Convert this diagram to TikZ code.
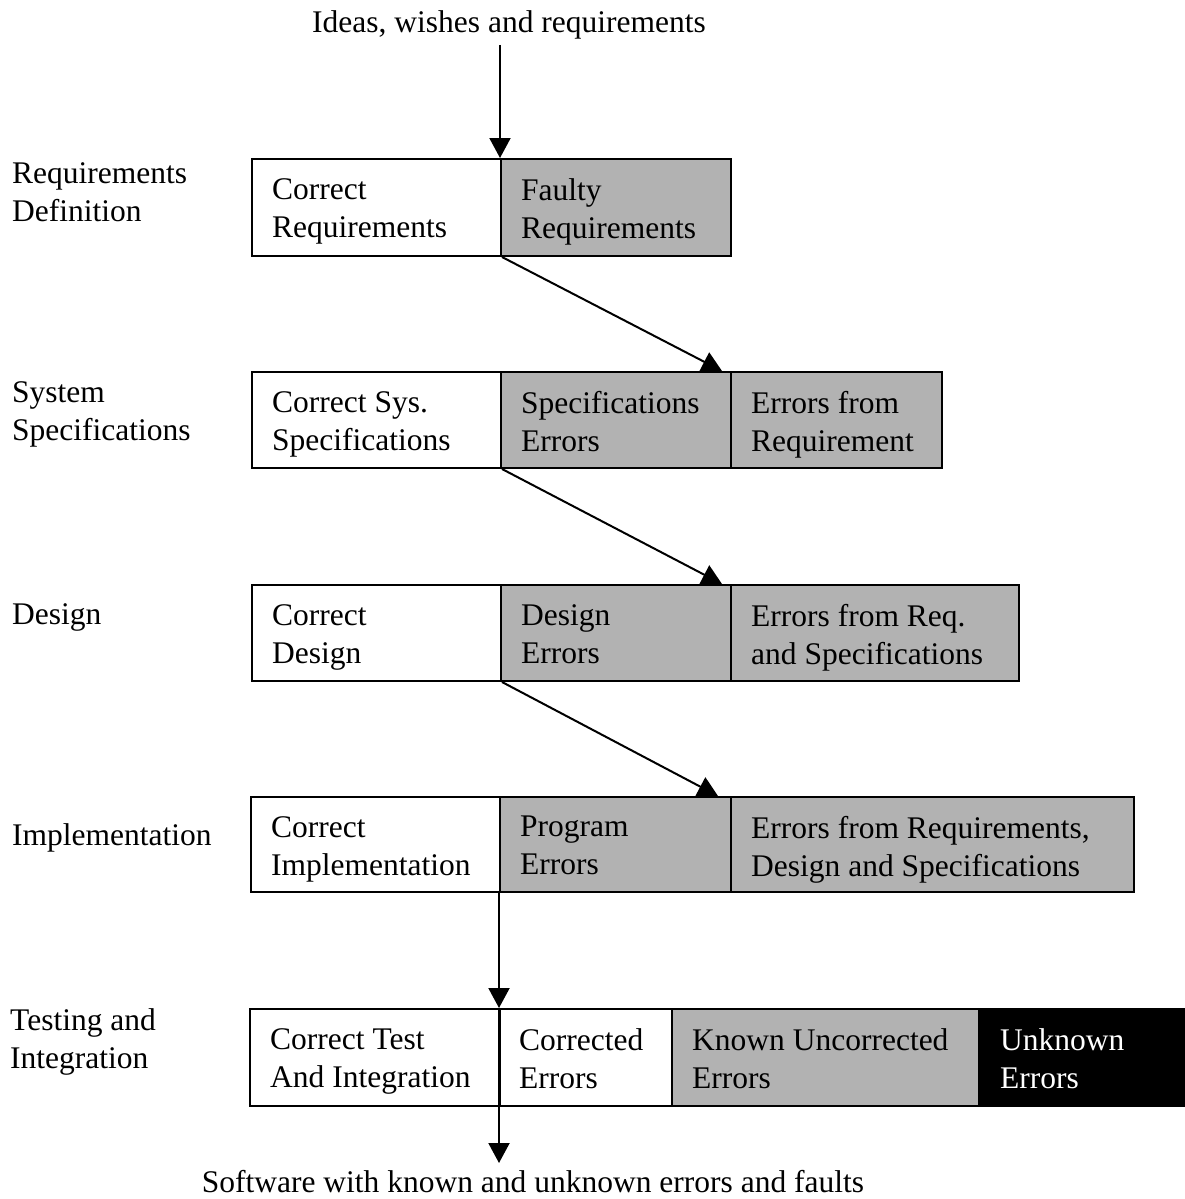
\documentclass[tikz,border=0pt]{standalone}
\usepackage{fontspec}
\setmainfont{Liberation Serif}
\usetikzlibrary{arrows.meta}
\begin{document}
\begin{tikzpicture}[x=1pt,y=-1pt,
  every node/.style={font=\fontsize{31.5}{38}\selectfont},
  cell/.style={draw=black, line width=2pt, rectangle, anchor=north west, inner sep=0pt},
  wcell/.style={cell, fill=white},
  gcell/.style={cell, fill=black!30},
  bcell/.style={cell, fill=black},
  txt/.style={anchor=north west, align=left, inner sep=0pt, execute at begin node=\strut},
  lab/.style={anchor=west, align=left, inner sep=0pt},
  arr/.style={line width=2pt, -{Triangle[length=20pt,width=21pt]}}]
\useasboundingbox (0,0) rectangle (1184,1199);
% row 1
\node[wcell, minimum width=249pt, minimum height=97pt] (r1a) at (251,158) {};
\node[gcell, minimum width=230pt, minimum height=97pt] (r1b) at (500,158) {};
% row 2
\node[wcell, minimum width=249pt, minimum height=96pt] (r2a) at (251,371) {};
\node[gcell, minimum width=230pt, minimum height=96pt] (r2b) at (500,371) {};
\node[gcell, minimum width=211pt, minimum height=96pt] (r2c) at (730,371) {};
% row 3
\node[wcell, minimum width=249pt, minimum height=96pt] (r3a) at (251,584) {};
\node[gcell, minimum width=230pt, minimum height=96pt] (r3b) at (500,584) {};
\node[gcell, minimum width=288pt, minimum height=96pt] (r3c) at (730,584) {};
% row 4
\node[wcell, minimum width=249pt, minimum height=95pt] (r4a) at (250,796) {};
\node[gcell, minimum width=231pt, minimum height=95pt] (r4b) at (499,796) {};
\node[gcell, minimum width=403pt, minimum height=95pt] (r4c) at (730,796) {};
% row 5
\node[wcell, minimum width=250pt, minimum height=97pt] (r5a) at (249,1008) {};
\node[wcell, minimum width=172pt, minimum height=97pt] (r5b) at (499,1008) {};
\node[gcell, minimum width=307pt, minimum height=97pt] (r5c) at (671,1008) {};
\node[bcell, minimum width=208pt, minimum height=97pt] (r5d) at (978,1008) {};
% cell texts
\tikzset{toff/.style={xshift=21pt,yshift=-20pt}}
\node[txt] (t1a) at ([toff]r1a.north west) {Correct\\Requirements};
\node[txt] (t1b) at ([toff]r1b.north west) {Faulty\\Requirements};
\node[txt] (t2a) at ([toff]r2a.north west) {Correct Sys.\\Specifications};
\node[txt] (t2b) at ([toff]r2b.north west) {Specifications\\Errors};
\node[txt] (t2c) at ([toff]r2c.north west) {Errors from\\Requirement};
\node[txt] (t3a) at ([toff]r3a.north west) {Correct\\Design};
\node[txt] (t3b) at ([toff]r3b.north west) {Design\\Errors};
\node[txt] (t3c) at ([toff]r3c.north west) {Errors from Req.\\and Specifications};
\node[txt] (t4a) at ([toff]r4a.north west) {Correct\\Implementation};
\node[txt] (t4b) at ([toff]r4b.north west) {Program\\Errors};
\node[txt] (t4c) at ([toff]r4c.north west) {Errors from Requirements,\\Design and Specifications};
\node[txt] (t5a) at ([toff]r5a.north west) {Correct Test\\And Integration};
\node[txt] (t5b) at ([toff,xshift=-1pt]r5b.north west) {Corrected\\Errors};
\node[txt] (t5c) at ([toff]r5c.north west) {Known Uncorrected\\Errors};
\node[txt, text=white] (t5d) at ([toff,xshift=1pt]r5d.north west) {Unknown\\Errors};
% left labels
\node[lab] (l1) at (12,192) {Requirements\\Definition};
\node[lab] (l2) at (12,414) {System\\Specifications};
\node[lab] (l3) at (12,617) {Design};
\node[lab] (l4) at (12,838) {Implementation};
\node[lab] (l5) at (10,1042) {Testing and\\Integration};
% top and bottom texts
\node[inner sep=0pt] (top) at (509,25) {Ideas, wishes and requirements};
\node[inner sep=0pt] (bot) at (533,1182) {Software with known and unknown errors and faults};
% arrows
\coordinate (t0) at (r1b.north west |- 0,45);
\draw[arr] (t0) -- (r1b.north west);
\draw[arr] (r1a.south east) -- ([xshift=-10pt]r2b.north east);
\draw[arr] (r2a.south east) -- ([xshift=-10pt]r3b.north east);
\draw[arr] (r3a.south east) -- ([xshift=-14pt]r4b.north east);
\draw[arr] (r4b.south west) -- (r5b.north west);
\coordinate (b0) at (r5b.south west |- 0,1163);
\draw[arr] (r5b.north west) -- (b0);
\end{tikzpicture}
\end{document}
